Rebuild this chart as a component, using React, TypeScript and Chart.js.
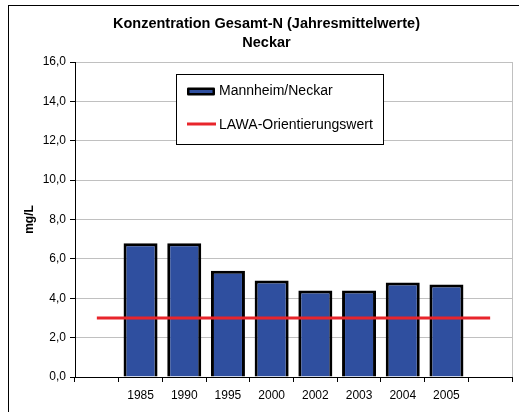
import React, { useEffect, useRef } from 'react';
import { Chart, registerables } from 'chart.js';

Chart.register(...registerables);

const categories = ['', '1985', '1990', '1995', '2000', '2002', '2003', '2004', '2005', ''];
const mannheimValues: (number | null)[] = [null, 6.8, 6.8, 5.4, 4.9, 4.4, 4.4, 4.8, 4.7, null];
const lawaValues = [3.0, 3.0, 3.0, 3.0, 3.0, 3.0, 3.0, 3.0, 3.0, 3.0];
const seriesNames = ['Mannheim/Neckar', 'LAWA-Orientierungswert'];
const titleLines = ['Konzentration Gesamt-N (Jahresmittelwerte)', 'Neckar'];
const yAxisTitle = 'mg/L';
const yMin = 0;
const yMax = 16;
const yStep = 2;

const FONT = '"Liberation Sans", Arial, sans-serif';
const BAR_COLOR = '#2f4f9f';
const LINE_COLOR = '#e8252b';

const boxLegend = {
  id: 'boxLegend',
  afterDraw(chart: any) {
    const { ctx, chartArea } = chart;
    const x = Math.round(chartArea.left + 101) + 0.5;
    const y = Math.round(chartArea.top + 12) + 0.5;
    const w = 207;
    const h = 70;
    ctx.save();
    ctx.fillStyle = '#ffffff';
    ctx.fillRect(x, y, w, h);
    ctx.strokeStyle = '#000000';
    ctx.lineWidth = 1;
    ctx.strokeRect(x, y, w, h);

    const barDs = chart.data.datasets[1];
    const lineDs = chart.data.datasets[0];

    // bar swatch
    ctx.fillStyle = barDs.backgroundColor;
    ctx.strokeStyle = barDs.borderColor;
    ctx.lineWidth = 2.5;
    ctx.lineJoin = 'round';
    ctx.fillRect(x + 11.75, y + 14.25, 25.5, 5.5);
    ctx.strokeRect(x + 11.75, y + 14.25, 25.5, 5.5);

    // line swatch
    ctx.strokeStyle = lineDs.borderColor;
    ctx.lineWidth = 3;
    ctx.beginPath();
    ctx.moveTo(x + 10.5, y + 49.5);
    ctx.lineTo(x + 39.5, y + 49.5);
    ctx.stroke();

    ctx.fillStyle = '#000000';
    ctx.font = `14px ${FONT}`;
    ctx.textAlign = 'left';
    ctx.textBaseline = 'middle';
    ctx.fillText(barDs.label, x + 42.5, y + 17);
    ctx.fillText(lineDs.label, x + 42.5, y + 51);
    ctx.restore();
  },
};

const plotBorder = {
  id: 'plotBorder',
  afterDraw(chart: any) {
    const { ctx, chartArea } = chart;
    ctx.save();
    ctx.strokeStyle = '#c0c0c0';
    ctx.lineWidth = 1;
    const xr = Math.round(chartArea.right) + 0.5;
    ctx.beginPath();
    ctx.moveTo(xr, chartArea.top);
    ctx.lineTo(xr, chartArea.bottom);
    ctx.stroke();
    ctx.restore();
  },
};

export default function App() {
  const canvasRef = useRef<HTMLCanvasElement | null>(null);

  useEffect(() => {
    const canvas = canvasRef.current;
    if (!canvas) return;
    const chart = new Chart(canvas, {
      type: 'bar',
      data: {
        labels: categories,
        datasets: [
          {
            type: 'line',
            label: seriesNames[1],
            data: lawaValues,
            borderColor: LINE_COLOR,
            backgroundColor: LINE_COLOR,
            borderWidth: 3,
            pointRadius: 0,
            fill: false,
            order: 0,
          } as any,
          {
            type: 'bar',
            label: seriesNames[0],
            data: mannheimValues,
            backgroundColor: BAR_COLOR,
            borderColor: '#000000',
            borderWidth: 3,
            categoryPercentage: 1,
            barPercentage: 0.778,
            order: 1,
          } as any,
        ],
      },
      options: {
        responsive: false,
        animation: false,
        events: [],
        devicePixelRatio: 1,
        layout: { padding: { left: 13, right: 13, top: 0, bottom: 0 } },
        plugins: {
          legend: { display: false },
          tooltip: { enabled: false },
          title: {
            display: true,
            text: titleLines,
            color: '#000000',
            font: { family: FONT, size: 14.5, weight: 'bold', lineHeight: 1.29 },
            padding: { top: 10, bottom: 9.6 },
          },
        },
        scales: {
          x: {
            grid: {
              display: true,
              drawOnChartArea: false,
              offset: true,
              tickLength: 5,
              color: '#000000',
              tickColor: '#000000',
            },
            border: { display: true, color: '#000000', width: 1 },
            ticks: {
              color: '#000000',
              font: { family: FONT, size: 12 },
              padding: 6,
              autoSkip: false,
              maxRotation: 0,
            },
            afterFit: (scale: any) => {
              scale.height = 35;
            },
          },
          y: {
            min: yMin,
            max: yMax,
            grid: {
              color: '#c0c0c0',
              tickColor: '#000000',
              tickLength: 5,
            },
            border: { display: true, color: '#000000', width: 1 },
            ticks: {
              stepSize: yStep,
              color: '#000000',
              font: { family: FONT, size: 12 },
              padding: 4,
              callback: (v: any) => Number(v).toFixed(1).replace('.', ','),
            },
            title: {
              display: true,
              text: yAxisTitle,
              color: '#000000',
              font: { family: FONT, size: 12, weight: 'bold' },
              padding: { top: 1, bottom: 0 },
            },
            afterFit: (scale: any) => {
              scale.width = 54;
            },
          },
        },
      } as any,
      plugins: [boxLegend, plotBorder],
    });
    return () => chart.destroy();
  }, []);

  return (
    <div
      style={{
        position: 'fixed',
        left: 0,
        top: 0,
        width: 519,
        height: 412,
        overflow: 'hidden',
        background: '#ffffff',
      }}
    >
      <canvas
        ref={canvasRef}
        width={517}
        height={407}
        style={{ position: 'absolute', left: 8, top: 5, width: 517, height: 407 }}
      />
      <div
        style={{
          position: 'absolute',
          left: 8,
          top: 5,
          width: 600,
          height: 500,
          border: '1px solid #000000',
          pointerEvents: 'none',
        }}
      />
    </div>
  );
}
